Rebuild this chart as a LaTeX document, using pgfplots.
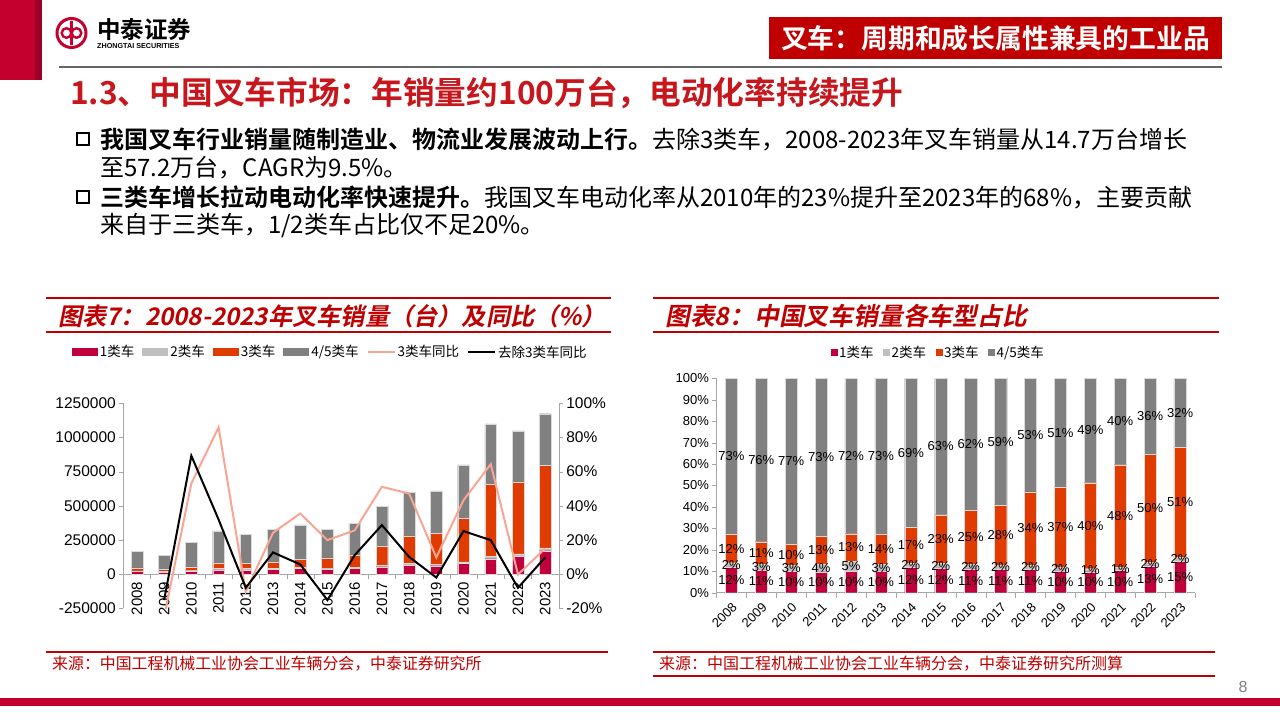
\documentclass[border=0pt]{standalone}
\usepackage{fontspec}
\usepackage{pgfplots}
\usepackage{pgfplotstable}
\pgfplotsset{compat=1.18}
\setmainfont{Liberation Sans}
\newfontfamily\cjk{Noto Sans CJK SC}
\newfontfamily\cjkb{Noto Sans CJK SC Bold}
\newfontfamily\cjkbi{Noto Sans CJK SC Bold}[FakeSlant=0.2]
\definecolor{cA}{HTML}{C0003C}
\definecolor{cB}{HTML}{C0C0C0}
\definecolor{cC}{HTML}{E03C00}
\definecolor{cD}{HTML}{808080}
\definecolor{salmon}{HTML}{F9A593}
\definecolor{hdred}{HTML}{C00000}
\definecolor{ttlred}{HTML}{C8161D}
\definecolor{barred}{HTML}{C4002F}
\definecolor{axgray}{HTML}{A6A6A6}

\pgfplotsset{
  widelegend/.style={legend image code/.code={\fill[##1] (0pt,-4pt) rectangle (26pt,4pt);}},
  linelegend/.style={legend image code/.code={\draw[##1] (0pt,0pt) -- (27pt,0pt);}},
  sqlegend/.style={legend image code/.code={\fill[##1,draw=none] (0pt,-3.5pt) rectangle (7pt,3.5pt);}},
}

% sales (units) by class and YoY (%)
\pgfplotstableread{
x c1 c2 c3 c45 g3 gx
0 20200 3400 22200 122200 nan nan
1 14700 3600 14700 106000 -25 -15.2
2 23100 6800 22700 181100 53.1 69.3
3 30600 12000 40400 232600 85.9 32
4 28900 14000 37300 211600 -10.3 -8.0
5 33500 9900 45700 239700 24.2 12.7
6 42500 7200 60100 250000 35.5 5.7
7 38000 6600 74700 208300 19.9 -15.2
8 41500 7400 92900 228300 25.6 11.1
9 54600 9900 138600 293600 51.1 28.7
10 65100 11900 203600 316600 47.2 10.1
11 62000 11600 224500 310200 9.8 -2.0
12 78400 11200 320900 389700 43.3 25.2
13 113200 15400 527700 443100 64.4 19.9
14 132100 16800 526300 373200 -0.2 -8.0
15 171400 21100 602200 379100 15.0 9.8
}\sales

% shares (%) and label positions
\pgfplotstableread{
x c1 c2 c3 c45 m1 m2 m3 m4 l1 l2 l3 l4
0 12 2 13.2 72.8 6 13 20.6 63.6 12 2 12 73
1 10.6 2.6 10.6 76.2 5.3 11.9 18.5 61.9 11 3 11 76
2 9.9 2.9 9.7 77.5 4.95 11.35 17.65 61.25 10 3 10 77
3 9.7 3.8 12.8 73.7 4.85 11.6 19.9 63.15 10 4 13 73
4 9.9 4.8 12.8 72.5 4.95 12.3 21.1 63.75 10 5 13 72
5 10.2 3.0 13.9 72.9 5.1 11.7 20.15 63.55 10 3 14 73
6 11.8 2.0 16.7 69.5 5.9 12.8 22.15 65.25 12 2 17 69
7 11.6 2.0 22.8 63.6 5.8 12.6 25.0 68.2 12 2 23 63
8 11.2 2.0 25.1 61.7 5.6 12.2 25.75 69.15 11 2 25 62
9 11.0 2.0 27.9 59.1 5.5 12.0 26.95 70.45 11 2 28 59
10 10.9 2.0 34.1 53.0 5.45 11.9 29.95 73.5 11 2 34 53
11 10.2 1.9 36.9 51.0 5.1 11.15 30.55 74.5 10 2 37 51
12 9.8 1.4 40.1 48.7 4.9 10.5 31.25 75.65 10 1 40 49
13 10.3 1.4 48.0 40.3 5.15 11.0 35.7 79.85 10 1 48 40
14 12.6 1.6 50.2 35.6 6.3 13.4 39.3 82.2 13 2 50 36
15 14.6 1.8 51.3 32.3 7.3 15.5 42.05 83.85 15 2 51 32
}\shares

\begin{document}
\begin{tikzpicture}
\path[use as bounding box, fill=white] (0pt,0pt) rectangle (1280pt,720pt);

\begin{scope}[x=1pt,y=-1pt,yshift=720pt]
% ---------- slide decoration ----------
\fill[barred] (0,0) rectangle (42,80);
\fill[barred!80!black] (35,0) rectangle (42,80);
\draw[barred, line width=3pt] (71.5,33) circle (14.5pt);
\draw[barred, line width=2.4pt] (66.5,33) circle (4.8pt);
\draw[barred, line width=2.4pt] (76.5,33) circle (4.8pt);
\draw[barred, line width=2.4pt] (71.5,21) -- (71.5,45);
\node[anchor=west, inner sep=0, font=\cjkb\fontsize{23.5}{23.5}\selectfont] at (97,30) {中泰证券};
\node[anchor=west, inner sep=0, font=\bfseries\fontsize{7.2}{7.2}\selectfont] at (97,46) {ZHONGTAI SECURITIES};

\fill[hdred] (769,17) rectangle (1222,59);
\node[text=white, font=\cjkb\fontsize{26.8}{26.8}\selectfont] at (995.5,38) {叉车：周期和成长属性兼具的工业品};
\draw[gray!80!black, line width=2pt] (59,67) -- (1222,67);

\node[anchor=west, inner sep=0, text=ttlred, font=\cjkb\fontsize{31.7}{31.7}\selectfont] at (70,93) {1.3、中国叉车市场：年销量约100万台，电动化率持续提升};

\foreach \yy in {139,197}{\draw[black, line width=2.2pt] (77,\yy-6) rectangle (89,\yy+6);}
\node[anchor=west, inner sep=0, font=\cjk\fontsize{24}{24}\selectfont] at (100,139) {{\cjkb 我国叉车行业销量随制造业、物流业发展波动上行。}去除3类车，2008-2023年叉车销量从14.7万台增长};
\node[anchor=west, inner sep=0, font=\cjk\fontsize{24}{24}\selectfont] at (100,168) {至57.2万台，CAGR为9.5\%。};
\node[anchor=west, inner sep=0, font=\cjk\fontsize{24}{24}\selectfont] at (100,197) {{\cjkb 三类车增长拉动电动化率快速提升。}我国叉车电动化率从2010年的23\%提升至2023年的68\%，主要贡献};
\node[anchor=west, inner sep=0, font=\cjk\fontsize{24}{24}\selectfont] at (100,226) {来自于三类车，1/2类车占比仅不足20\%。};

% chart frames
\draw[hdred, line width=1.6pt] (46,298) -- (611,298);
\draw[hdred, line width=1.6pt] (46,332) -- (611,332);
\draw[hdred, line width=1.6pt] (653,298) -- (1219,298);
\draw[hdred, line width=1.6pt] (653,332) -- (1219,332);
\node[anchor=west, inner sep=0, text=hdred, font=\cjkbi\fontsize{24.2}{24.2}\selectfont] at (58,316) {图表7：2008-2023年叉车销量（台）及同比（\%）};
\node[anchor=west, inner sep=0, text=hdred, font=\cjkbi\fontsize{24.8}{24.8}\selectfont] at (665,316) {图表8：中国叉车销量各车型占比};

\draw[hdred, line width=1.4pt] (46,652) -- (608,652);
\draw[hdred, line width=1.4pt] (653,652) -- (1215,652);
\draw[hdred, line width=1.2pt] (653,676) -- (1215,676);
\node[anchor=west, inner sep=0, text=hdred, font=\cjk\fontsize{15.9}{15.9}\selectfont] at (52,664) {来源：中国工程机械工业协会工业车辆分会，中泰证券研究所};
\node[anchor=west, inner sep=0, text=hdred, font=\cjk\fontsize{16}{16}\selectfont] at (659,664) {来源：中国工程机械工业协会工业车辆分会，中泰证券研究所测算};
\node[text=gray, font=\fontsize{16}{16}\selectfont] at (1243,687) {8};
\fill[barred] (0,698) rectangle (1280,706);
\end{scope}

% ---------- left chart: bars ----------
\begin{axis}[at={(123.3pt,111.7pt)}, anchor=south west, scale only axis,
  width=435.5pt, height=205pt,
  xmin=-0.5, xmax=15.5, ymin=-250000, ymax=1250000,
  ybar stacked, bar width=11.7pt,
  axis y line*=left, axis x line*=middle,
  hide obscured x ticks=false, hide obscured y ticks=false,
  x axis line style={-, draw=axgray}, y axis line style={-, draw=axgray},
  xtick={0,...,15},
  xticklabels={2008,2009,2010,2011,2012,2013,2014,2015,2016,2017,2018,2019,2020,2021,2022,2023},
  xticklabel style={rotate=90, anchor=east, font=\fontsize{15}{15}\selectfont},
  major x tick style={draw=none},
  minor xtick={-0.5,0.5,...,15.5}, minor x tick style={draw=axgray},
  minor tick length=5pt, major tick length=4pt,
  xtick align=outside, ytick align=outside,
  ytick={-250000,0,250000,500000,750000,1000000,1250000},
  y tick style={draw=axgray},
  scaled y ticks=false,
  yticklabel style={/pgf/number format/fixed, /pgf/number format/1000 sep={}, font=\fontsize{15.5}{15.5}\selectfont},
  /pgf/number format/assume math mode=true,
]
\addplot[fill=cA, draw=white!85!black, line width=0.3pt] table[x=x,y=c1]{\sales};
\addplot[fill=cB, draw=white!85!black, line width=0.3pt] table[x=x,y=c2]{\sales};
\addplot[fill=cC, draw=white!85!black, line width=0.3pt] table[x=x,y=c3]{\sales};
\addplot[fill=cD, draw=white!85!black, line width=0.3pt] table[x=x,y=c45]{\sales};
\end{axis}

% ---------- left chart: lines ----------
\begin{axis}[at={(123.3pt,111.7pt)}, anchor=south west, scale only axis,
  width=435.5pt, height=205pt,
  xmin=-0.5, xmax=15.5, ymin=-20, ymax=100,
  axis y line*=right, axis x line=none,
  y axis line style={-, draw=axgray}, y tick style={draw=axgray},
  ytick={-20,0,20,40,60,80,100}, ytick align=outside, major tick length=4pt,
  yticklabel={\pgfmathprintnumber{\tick}\%},
  yticklabel style={font=\fontsize{15.5}{15.5}\selectfont},
  /pgf/number format/assume math mode=true,
  legend style={at={(0.475,1.25)}, anchor=center, draw=none, fill=none,
    legend columns=6, font=\cjk\fontsize{13.5}{13.5}\selectfont,
    /tikz/every even column/.append style={column sep=6pt},
    /tikz/every odd column/.append style={column sep=0pt},
    nodes={inner sep=2pt}},
]
\addlegendimage{widelegend, fill=cA, draw=none}
\addlegendentry{1类车}
\addlegendimage{widelegend, fill=cB, draw=none}
\addlegendentry{2类车}
\addlegendimage{widelegend, fill=cC, draw=none}
\addlegendentry{3类车}
\addlegendimage{widelegend, fill=cD, draw=none}
\addlegendentry{4/5类车}
\addplot[salmon, line width=2pt, linelegend] table[x=x,y=g3]{\sales};
\addlegendentry{3类车同比}
\addplot[black, line width=2pt, linelegend] table[x=x,y=gx]{\sales};
\addlegendentry{去除3类车同比}
\end{axis}

% ---------- right chart ----------
\begin{axis}[at={(716.4pt,127.3pt)}, anchor=south west, scale only axis,
  width=478.6pt, height=214.4pt,
  xmin=-0.5, xmax=15.5, ymin=0, ymax=100,
  ybar stacked, bar width=12.2pt,
  axis lines=left, axis line style={-, draw=axgray},
  xtick={0,...,15},
  xticklabels={2008,2009,2010,2011,2012,2013,2014,2015,2016,2017,2018,2019,2020,2021,2022,2023},
  xticklabel style={rotate=45, anchor=north east, font=\fontsize{13}{13}\selectfont},
  major x tick style={draw=none},
  minor xtick={-0.5,0.5,...,15.5}, minor x tick style={draw=axgray},
  minor tick length=5pt, major tick length=4pt,
  tick align=outside,
  ytick={0,10,...,100}, y tick style={draw=axgray},
  yticklabel={\pgfmathprintnumber{\tick}\%},
  yticklabel style={font=\fontsize{13}{13}\selectfont},
  /pgf/number format/assume math mode=true,
  legend style={at={(0.463,1.12)}, anchor=center, draw=none, fill=none,
    legend columns=4, font=\cjk\fontsize{13.5}{13.5}\selectfont,
    /tikz/every even column/.append style={column sep=8pt},
    /tikz/every odd column/.append style={column sep=0pt},
    nodes={inner sep=1.5pt}},
]
\addplot[fill=cA, draw=white!85!black, line width=0.3pt, sqlegend] table[x=x,y=c1]{\shares};
\addlegendentry{1类车}
\addplot[fill=cB, draw=white!85!black, line width=0.3pt, sqlegend] table[x=x,y=c2]{\shares};
\addlegendentry{2类车}
\addplot[fill=cC, draw=white!85!black, line width=0.3pt, sqlegend] table[x=x,y=c3]{\shares};
\addlegendentry{3类车}
\addplot[fill=cD, draw=white!85!black, line width=0.3pt, sqlegend] table[x=x,y=c45]{\shares};
\addlegendentry{4/5类车}
\end{axis}

% right chart labels (segment centres)
\begin{axis}[at={(716.4pt,127.3pt)}, anchor=south west, scale only axis,
  width=478.6pt, height=214.4pt,
  xmin=-0.5, xmax=15.5, ymin=0, ymax=100, hide axis, clip=false,
  nodes near coords={\pgfplotspointmeta\%},
  point meta=explicit symbolic,
  every node near coord/.append style={anchor=center, inner sep=0pt, text=black,
    font=\fontsize{13}{13}\selectfont},
]
\addplot[draw=none, mark=none] table[x=x,y=m1,meta=l1]{\shares};
\addplot[draw=none, mark=none] table[x=x,y=m2,meta=l2]{\shares};
\addplot[draw=none, mark=none] table[x=x,y=m3,meta=l3]{\shares};
\addplot[draw=none, mark=none] table[x=x,y=m4,meta=l4]{\shares};
\end{axis}
\end{tikzpicture}
\end{document}
